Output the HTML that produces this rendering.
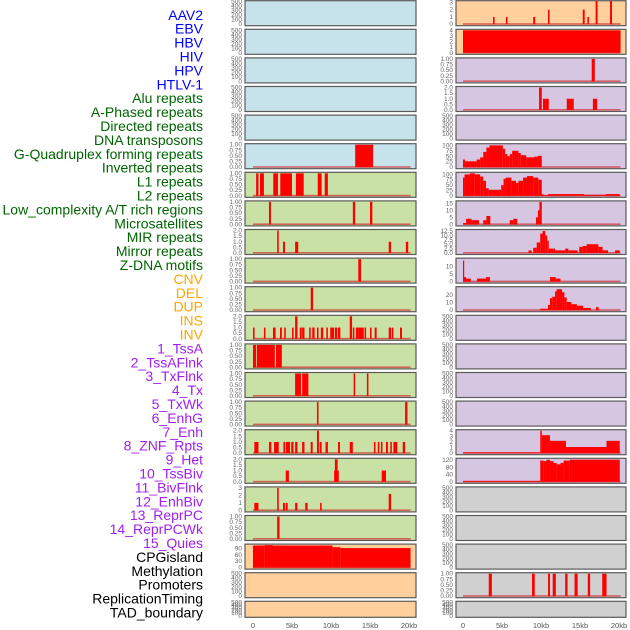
<!DOCTYPE html>
<html><head><meta charset="utf-8"><style>
html,body{margin:0;padding:0;background:#fff;}
svg{display:block;font-family:"Liberation Sans",sans-serif;}
</style></head><body>
<svg id="chart" width="630" height="630" viewBox="0 0 630 630"></svg>
<script>
const labels = ["AAV2","EBV","HBV","HIV","HPV","HTLV-1","Alu repeats","A-Phased repeats","Directed repeats","DNA transposons","G-Quadruplex forming repeats","Inverted repeats","L1 repeats","L2 repeats","Low_complexity A/T rich regions","Microsatellites","MIR repeats","Mirror repeats","Z-DNA motifs","CNV","DEL","DUP","INS","INV","1_TssA","2_TssAFlnk","3_TxFlnk","4_Tx","5_TxWk","6_EnhG","7_Enh","8_ZNF_Rpts","9_Het","10_TssBiv","11_BivFlnk","12_EnhBiv","13_ReprPC","14_ReprPCWk","15_Quies","CPGisland","Methylation","Promoters","ReplicationTiming","TAD_boundary"];
const labelColors = ["#0000ff","#0000ff","#0000ff","#0000ff","#0000ff","#0000ff","#006400","#006400","#006400","#006400","#006400","#006400","#006400","#006400","#006400","#006400","#006400","#006400","#006400","#ffa500","#ffa500","#ffa500","#ffa500","#ffa500","#a020f0","#a020f0","#a020f0","#a020f0","#a020f0","#a020f0","#a020f0","#a020f0","#a020f0","#a020f0","#a020f0","#a020f0","#a020f0","#a020f0","#a020f0","#000000","#000000","#000000","#000000","#000000"];
const xTicks = [0,5,10,15,20];
const xTickLabels = ["0","5kb","10kb","15kb","20kb"];
const T500 = [0,100,200,300,400,500];
const T1 = [0,0.25,0.5,0.75,1];
const T1L = ["0.00","0.25","0.50","0.75","1.00"];
const T2 = [0,0.5,1,1.5,2];
const T2L = ["0.0","0.5","1.0","1.5","2.0"];
// left column panels: bg, ticks, tick labels, domain max, segments [startKb,endKb,value], baseline
const leftBg = ["#c6e2ea","#c6e2ea","#c6e2ea","#c6e2ea","#c6e2ea","#c6e2ea","#c9e1a4","#c9e1a4","#c9e1a4","#c9e1a4","#c9e1a4","#c9e1a4","#c9e1a4","#c9e1a4","#c9e1a4","#c9e1a4","#c9e1a4","#c9e1a4","#c9e1a4","#ffcf9c","#ffcf9c","#ffcf9c"];
const leftTicks = [T500,T500,T500,T500,T500,T1,T1,T1,T2,T1,T1,T2,T1,T1,T1,T2,T2,[0,1,2,3],T1,[0,30,60,90],T500,T500];
const leftTickLabels = [null,null,null,null,null,T1L,T1L,T1L,T2L,T1L,T1L,T2L,T1L,T1L,T1L,T2L,T2L,null,T1L,null,null,null];
const leftMax = [500,500,500,500,500,1,1,1,2,1,1,2,1,1,1,2,2,3,1,106,500,500];
const leftSegs = [
 [],[],[],[],[],
 [[13.1,15.4,1]],
 [[0.4,0.7,1],[0.9,1.4,1],[2.6,3.2,1],[3.5,5.0,1],[5.5,6.5,1],[8.3,8.8,1],[9.2,9.6,1]],
 [[2.05,2.3,1],[12.8,13.1,1],[15.0,15.3,1]],
 [[3.1,3.3,2],[3.85,4.1,1],[5.4,5.8,1],[17.4,17.7,1],[19.6,19.9,1]],
 [[13.5,13.85,1]],
 [[7.4,7.7,1]],
 [[0,0.2,1],[1.4,1.6,1],[2.56,2.9,1],[3.46,3.7,1],[4.0,4.2,1],[5.0,5.2,1],[5.4,5.7,2],[6.0,6.25,1],[6.3,6.6,1],[7.2,7.4,1],[7.6,7.9,1],[8.2,8.4,1],[8.7,9.0,1],[9.4,9.6,1],[9.9,10.4,1],[10.5,10.8,1],[10.9,11.2,1],[12.4,12.7,2],[12.8,13.0,1],[13.2,13.5,1],[13.5,14.2,1],[14.3,14.5,1],[15.0,15.2,1],[15.6,15.85,1],[17.4,17.7,1],[17.8,18.0,1],[18.85,19.1,1]],
 [[0,0.4,1],[0.5,2.8,1],[2.95,3.7,1]],
 [[5.4,6.15,1],[6.3,7.1,1],[12.9,13.1,1],[14.6,14.8,1]],
 [[8.2,8.4,1],[19.5,19.8,1]],
 [[0.17,0.7,1],[2.05,2.35,1],[2.7,3.3,1],[3.9,4.1,1],[4.2,4.75,1],[4.9,5.2,1],[5.4,5.7,1],[6.3,6.6,1],[7.4,7.65,1],[8.2,8.45,2],[8.55,8.8,1],[9.3,9.6,1],[10.9,11.15,1],[12.4,12.8,1],[15.5,15.7,1],[16.0,16.2,1],[16.4,16.6,1],[17.05,17.3,1],[17.6,17.8,1],[18.0,18.5,1],[19.2,19.5,1]],
 [[4.2,4.6,1],[10.4,11.0,1],[10.5,10.85,2],[16.5,17.05,1]],
 [[0.17,0.7,1],[3.1,3.3,3],[3.85,4.1,1],[4.2,4.45,1],[5.4,5.7,1],[6.7,7.0,1],[8.6,8.8,1],[17.4,17.7,2.2]],
 [[3.1,3.4,1]],
 [[0,1.5,104],[1.5,2.5,106],[2.5,10.2,104],[10.2,11.2,96],[11.2,20.2,92]],
 [],[]
];
const rightBg = ["#ffcf9c","#ffcf9c","#d6c6e2","#d6c6e2","#d6c6e2","#d6c6e2","#d6c6e2","#d6c6e2","#d6c6e2","#d6c6e2","#d6c6e2","#d6c6e2","#d6c6e2","#d6c6e2","#d6c6e2","#d6c6e2","#d6c6e2","#d0d0d0","#d0d0d0","#d0d0d0","#d0d0d0","#d0d0d0"];
const rightTicks = [[0,1,2,3],[0,1,2,3,4],T1,T2,T500,[0,25,50,75,100],[0,25,50,75,100],[0,5,10,15],[0,2.5,5,7.5,10,12.5],[0,5,10],[0,10,20],T500,T500,T500,T500,[0,1,2,3,4],[0,40,80,120],T500,T500,T500,T1,T500];
const rightTickLabels = [null,null,T1L,T2L,null,null,null,null,["0.0","2.5","5.0","7.5","10.0","12.5"],null,null,null,null,null,null,null,null,null,null,null,T1L,null];
const rightMax = [3.1,4,1,2,500,103,105,16,12.8,15,30,500,500,500,500,4,125,500,500,500,1,500];
const rightSegs = [
 [[3.85,4.05,1],[5.5,5.7,1],[9.0,9.25,1],[10.9,11.1,2],[15.35,15.6,2],[15.95,16.15,1],[17.0,17.25,3.2],[18.85,19.1,3.2]],
 [[0,20.2,4]],
 [[16.5,16.9,1]],
 [[9.75,10.1,2],[10.25,11.0,1],[13.3,14.2,1],[16.65,17.2,1]],
 [],
 [[0,0.25,35],[0.25,1.75,27],[1.75,2.2,35],[2.2,2.6,45],[2.6,3.0,70],[3.0,3.4,90],[3.4,5.1,100],[5.1,5.4,85],[5.4,5.7,60],[5.7,6.0,50],[6.0,6.3,60],[6.3,7.1,75],[7.1,7.4,65],[7.4,8.1,55],[8.1,9.1,45],[9.1,9.6,48],[9.6,10.1,52]],
 [[0,0.2,85],[0.2,0.9,100],[0.9,1.5,105],[1.5,2.2,100],[2.2,2.6,90],[2.6,2.95,70],[2.95,3.3,35],[3.3,4.9,28],[4.9,5.2,50],[5.2,5.5,80],[5.5,6.2,85],[6.2,6.8,70],[6.8,7.1,60],[7.1,7.7,70],[7.7,8.2,85],[8.2,9.0,92],[9.0,9.65,85],[9.65,10.1,75],[10.1,10.3,8],[10.3,10.9,3],[10.9,15.5,8],[15.5,18.3,5],[18.3,20.1,8]],
 [[0,0.4,1],[0.4,1.1,4],[1.1,2.05,3],[2.6,3.0,3],[3.0,3.5,6],[6.0,6.45,3],[6.45,6.95,4],[9.35,9.6,5],[9.6,9.8,10],[9.8,10.1,16]],
 [[8.4,8.8,1.5],[9.0,9.45,3],[9.45,9.9,6],[9.9,10.2,11],[10.2,10.55,12.5],[10.55,10.8,10],[10.8,11.0,7],[11.0,11.8,2.5],[11.8,13.1,1.5],[13.1,13.5,2.5],[13.5,14.7,1.5],[14.9,15.35,3.5],[15.35,15.85,4],[15.85,17.35,5],[17.35,17.9,3.5],[17.9,18.6,1.5],[19.5,20.1,1.5]],
 [[0,0.13,14],[0.13,0.4,3],[0.4,1.0,2],[1.8,2.95,2],[2.95,3.45,3],[11.15,11.9,3],[11.9,12.5,2]],
 [[9.9,10.9,2],[10.9,11.15,7],[11.15,11.45,16],[11.45,11.8,18],[11.8,12.0,25],[12.0,12.7,28],[12.7,13.0,24],[13.0,13.3,17],[13.3,13.9,11],[13.9,14.6,8],[14.6,15.4,6],[15.4,16.4,3],[17.05,17.4,4]],
 [],[],[],[],
 [[0,9.9,0.15],[9.9,10.1,4],[10.1,11.15,3.2],[11.15,13.2,2.2],[13.2,18.4,1.1],[18.4,20.1,2.2]],
 [[0,9.9,5],[9.9,10.3,118],[10.3,10.7,115],[10.7,11.15,122],[11.15,11.6,115],[11.6,12.0,105],[12.0,12.5,97],[12.5,12.9,105],[12.9,13.7,118],[13.7,20.1,123]],
 [],[],[],
 [[3.3,3.7,1],[8.85,9.2,1],[10.9,11.15,1],[11.5,11.9,1],[13.1,13.4,1],[14.3,14.7,1],[16.0,16.3,1],[17.85,18.4,1]],
 []
];

const NS = "http://www.w3.org/2000/svg";
const svg = document.getElementById("chart");
function mk(tag, attrs, parent){const e=document.createElementNS(NS,tag);for(const k in attrs)e.setAttribute(k,attrs[k]);(parent||svg).appendChild(e);return e;}

// labels
labels.forEach((t,i)=>{
  const e = mk("text",{x:203,y:14.8+13.9*i+5,"text-anchor":"end","font-size":"14",fill:labelColors[i]});
  e.textContent = t;
  
  
});

function rowTop(i){return 0.7+28.6*i;}
function rowH(i){return i===21?16:25;}

function drawPanel(col, i, bg, ticks, tlabels, ymax, segs){
  const x0 = col===0?245:456, x1 = col===0?416:626;
  const kb0 = col===0?253:463;
  const xs = kb => kb0 + kb*7.8;
  const top = rowTop(i), h = rowH(i);
  const pTop = top+1, pBot = top+h-1.5;
  const ys = v => pBot - (v/ymax)*(pBot-pTop);
  const g = mk("g",{});
  
  
  const r = mk("rect",{x:x0,y:top,width:x1-x0,height:h,fill:bg,stroke:"#5a5a5a","stroke-width":1.2},g);
  
  
  ticks.forEach((tv,k)=>{
    const lab = tlabels? tlabels[k] : String(tv);
    const tx = mk("text",{x:x0-3,y:ys(tv)+2,"text-anchor":"end","font-size":"6.5",fill:"#666"},g);
    tx.textContent = lab;
    
    
  });
  if(segs.length){
    const bl = mk("rect",{x:xs(0),y:pBot-1,width:xs(20.2)-xs(0),height:1.6,fill:"#d03030",opacity:0.7},g);
    
    
  }
  segs.forEach(s=>{
    const y = Math.max(top, ys(s[2]));
    const b = mk("rect",{x:xs(s[0]),y:y,width:Math.max(1.2,xs(s[1])-xs(s[0])),height:pBot-y,fill:"#ff0000"},g);
    
    
  });
}
for(let i=0;i<22;i++){
  drawPanel(0,i,leftBg[i],leftTicks[i],leftTickLabels[i],leftMax[i],leftSegs[i]);
  drawPanel(1,i,rightBg[i],rightTicks[i],rightTickLabels[i],rightMax[i],rightSegs[i]);
}
// x axes
[253,463].forEach(kb0=>{
  xTicks.forEach((v,k)=>{
    const t = mk("text",{x:kb0+v*7.8,y:628,"text-anchor":"middle","font-size":"7.5",fill:"#555"});
    t.textContent = xTickLabels[k];
    
    
  });
});
</script>
</body></html>
